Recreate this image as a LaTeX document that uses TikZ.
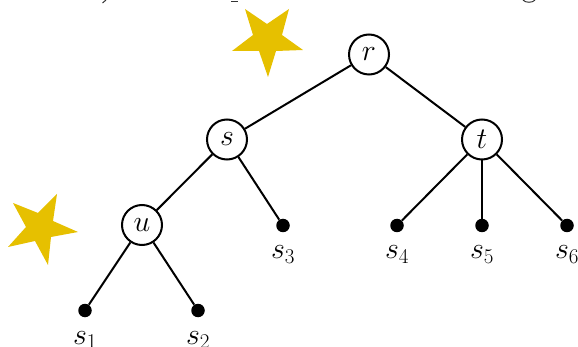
\RequirePackage{fix-cm}
\documentclass[tikz,border=0pt]{standalone}
\usepackage{amsmath}
\definecolor{starc}{HTML}{E6C000}
\tikzset{
  x=1pt,y=-1pt,
  inner/.style={circle,draw=black,line width=2pt,fill=white,minimum size=40pt,inner sep=0pt,font=\fontsize{30}{32}\selectfont},
  leaf/.style={circle,fill=black,minimum size=13.5pt,inner sep=0pt},
  lbl/.style={inner sep=0pt,anchor=base,font=\fontsize{30}{32}\selectfont},
  edge/.style={line width=2pt,black},
  starshape/.style={fill=starc,draw=none},
  crumb/.style={line width=1pt,black!80}
}
\begin{document}
\begin{tikzpicture}
\useasboundingbox (0,0) rectangle (578,347);
\begin{scope}
\clip (0,0) rectangle (578,347);
\draw[crumb] (106,0)--(102.5,3);
\draw[crumb] (231,2)--(238,2);
\draw[crumb] (523,0) .. controls (525,3) and (533,3) .. (535,0);
\fill[starshape] (245,9)--(267,24)--(289,9)--(282,35)--(303,50)--(276,51)--(268,77)--(259,51)--(232,51)--(253,35)--cycle;
\fill[starshape] (13,203)--(38,213)--(57,194)--(53,221)--(78,232)--(51,237)--(48,265)--(35,241)--(8,247)--(26,227)--cycle;
\node[inner] (r) at (369,54.5) {$r$};
\node[inner] (s) at (227,139.5) {$s$};
\node[inner] (t) at (482,139.5) {$t$};
\node[inner] (u) at (142,225) {$u$};
\node[leaf] (l1) at (85,310.5) {};
\node[leaf] (l2) at (198,310.5) {};
\node[leaf] (l3) at (283,225.5) {};
\node[leaf] (l4) at (397,225.5) {};
\node[leaf] (l5) at (482,225.5) {};
\node[leaf] (l6) at (567,225.5) {};
\draw[edge] (r)--(s);
\draw[edge] (r)--(t);
\draw[edge] (s)--(u);
\draw[edge] (s)--(l3);
\draw[edge] (u)--(l1);
\draw[edge] (u)--(l2);
\draw[edge] (t)--(l4);
\draw[edge] (t)--(l5);
\draw[edge] (t)--(l6);
\node[lbl] (n1) at (85,344) {$s_1$};
\node[lbl] (n2) at (198,344) {$s_2$};
\node[lbl] (n3) at (283,259) {$s_3$};
\node[lbl] (n4) at (397,259) {$s_4$};
\node[lbl] (n5) at (482,259) {$s_5$};
\node[lbl] (n6) at (567,259) {$s_6$};
\end{scope}
\end{tikzpicture}
\end{document}
